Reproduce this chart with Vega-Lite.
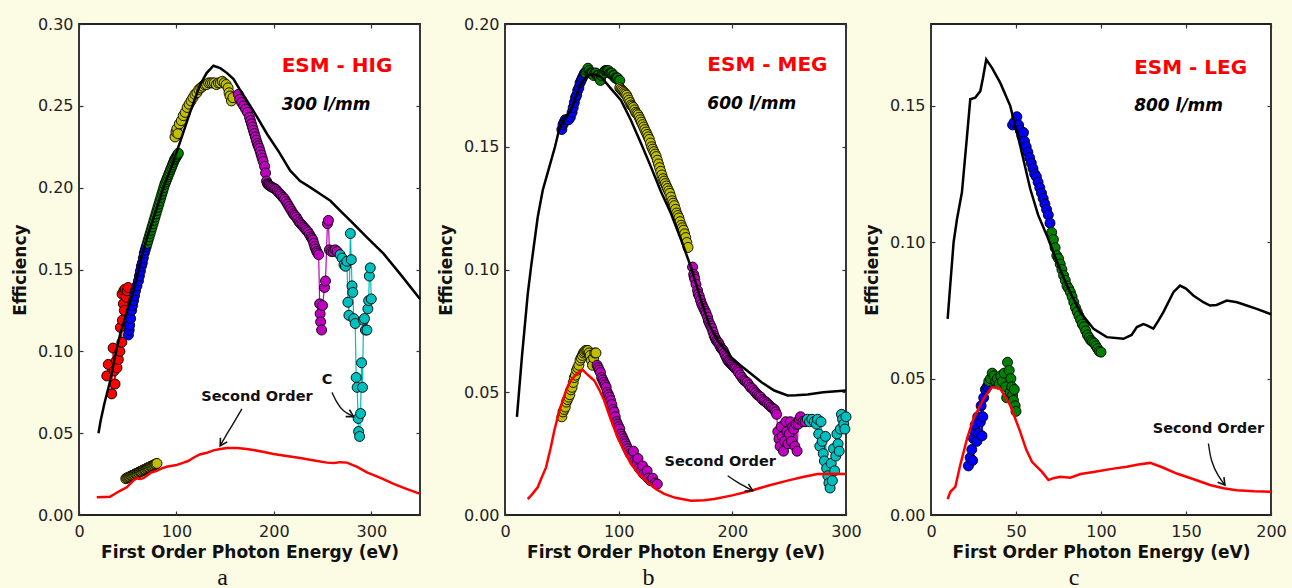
{
"$schema": "https://vega.github.io/schema/vega-lite/v6.json",
"background": "#fcfbe3",
"padding": {"left": 10, "top": 15, "right": 5, "bottom": 0},
"bounds": "flush",
"spacing": 85,
"config": {
  "view": {"stroke": "#222", "strokeWidth": 1.8, "fill": "white"},
  "axis": {"grid": false, "domain": false, "labelFont": "DejaVu Sans", "labelFontSize": 16, "labelColor": "#222", "titleFont": "DejaVu Sans", "titleFontSize": 17, "titleFontWeight": "bold", "titleColor": "#111", "tickColor": "#333", "tickSize": -4, "tickWidth": 1.2, "labelFlush": false, "labelOverlap": false},
  "axisLeft": {"labelPadding": 10, "titleX": -54, "titleY": 245.5, "titleBaseline": "alphabetic", "titleAngle": 270},
  "axisBottom": {"labelPadding": 25, "labelBaseline": "alphabetic", "titleY": 42.5, "titleBaseline": "alphabetic"},
  "title": {"orient": "bottom", "frame": "group", "anchor": "middle", "dx": -27, "font": "Liberation Serif", "fontSize": 24, "fontWeight": "normal", "color": "#111", "offset": 5}
},
"datasets": {
  "aF": [{"x":20,"y":0.050},{"x":22,"y":0.057},{"x":26,"y":0.068},{"x":32,"y":0.082},{"x":37,"y":0.097},{"x":42,"y":0.110},{"x":49,"y":0.124},{"x":56,"y":0.137},{"x":64,"y":0.157},{"x":70,"y":0.170},{"x":78,"y":0.184},{"x":86.6,"y":0.200},{"x":95,"y":0.213},{"x":103.8,"y":0.228},{"x":114,"y":0.246},{"x":124.4,"y":0.263},{"x":131,"y":0.270},{"x":138,"y":0.2745},{"x":145,"y":0.273},{"x":152,"y":0.270},{"x":158.6,"y":0.2664},{"x":165,"y":0.260},{"x":172.4,"y":0.2531},{"x":183,"y":0.243},{"x":193,"y":0.2328},{"x":205,"y":0.222},{"x":216.8,"y":0.2104},{"x":227,"y":0.204},{"x":237.4,"y":0.2002},{"x":248,"y":0.196},{"x":258,"y":0.192},{"x":268,"y":0.186},{"x":278.5,"y":0.1798},{"x":295,"y":0.170},{"x":312.8,"y":0.1595},{"x":330,"y":0.147},{"x":350,"y":0.132}],
  "aS": [{"x":18.2,"y":0.0108},{"x":25,"y":0.011},{"x":31.9,"y":0.0112},{"x":37,"y":0.013},{"x":42.1,"y":0.0148},{"x":49,"y":0.0169},{"x":55.8,"y":0.021},{"x":59,"y":0.0225},{"x":62.7,"y":0.022},{"x":66,"y":0.0225},{"x":69.5,"y":0.024},{"x":74,"y":0.026},{"x":79.8,"y":0.027},{"x":85,"y":0.0285},{"x":90,"y":0.0295},{"x":100,"y":0.0305},{"x":107.2,"y":0.032},{"x":112,"y":0.033},{"x":117.5,"y":0.035},{"x":124,"y":0.037},{"x":131.2,"y":0.038},{"x":138,"y":0.0395},{"x":144.9,"y":0.0403},{"x":152,"y":0.041},{"x":162,"y":0.041},{"x":170,"y":0.0405},{"x":179,"y":0.0397},{"x":190,"y":0.0385},{"x":199.6,"y":0.0373},{"x":213,"y":0.036},{"x":227,"y":0.0348},{"x":240,"y":0.0335},{"x":254.4,"y":0.032},{"x":262,"y":0.0318},{"x":268,"y":0.0323},{"x":275,"y":0.032},{"x":285,"y":0.0295},{"x":295.6,"y":0.026},{"x":310,"y":0.0225},{"x":323,"y":0.019},{"x":336,"y":0.016},{"x":348.8,"y":0.0132},{"x":350,"y":0.013}],
  "aP": [
    {"g":"r1","c":"r","x":28.5,"y":0.085},{"g":"r1","c":"r","x":30,"y":0.092},{"g":"r1","c":"r","x":33.6,"y":0.074},{"g":"r1","c":"r","x":35,"y":0.102},{"g":"r1","c":"r","x":36,"y":0.088},{"g":"r1","c":"r","x":37,"y":0.080},{"g":"r1","c":"r","x":38,"y":0.094},{"g":"r1","c":"r","x":39,"y":0.090},{"g":"r1","c":"r","x":40.4,"y":0.095},{"g":"r1","c":"r","x":42,"y":0.100},{"g":"r1","c":"r","x":42.5,"y":0.1146},{"g":"r1","c":"r","x":44,"y":0.1055},{"g":"r1","c":"r","x":44.2,"y":0.135},{"g":"r1","c":"r","x":44.5,"y":0.119},{"g":"r1","c":"r","x":45.5,"y":0.129},{"g":"r1","c":"r","x":46,"y":0.137},{"g":"r1","c":"r","x":46.5,"y":0.125},{"g":"r1","c":"r","x":47.3,"y":0.138},{"g":"r1","c":"r","x":48.5,"y":0.133},{"g":"r1","c":"r","x":49.5,"y":0.137},{"g":"r1","c":"r","x":50.5,"y":0.139},
    {"g":"b1","c":"b","x":50.7,"y":0.110},{"g":"b1","c":"b","x":51.5,"y":0.113},{"g":"b1","c":"b","x":52,"y":0.116},{"g":"b1","c":"b","x":53,"y":0.120},{"g":"b1","c":"b","x":54,"y":0.125},{"g":"b1","c":"b","x":55,"y":0.128},{"g":"b1","c":"b","x":56,"y":0.131},{"g":"b1","c":"b","x":57,"y":0.134},{"g":"b1","c":"b","x":58,"y":0.137},{"g":"b1","c":"b","x":59.5,"y":0.140},{"g":"b1","c":"b","x":61,"y":0.143},{"g":"b1","c":"b","x":62,"y":0.146},{"g":"b1","c":"b","x":63,"y":0.149},{"g":"b1","c":"b","x":64,"y":0.152},{"g":"b1","c":"b","x":65,"y":0.154},{"g":"b1","c":"b","x":66,"y":0.157},{"g":"b1","c":"b","x":67,"y":0.160},{"g":"b1","c":"b","x":68,"y":0.162},{"g":"b1","c":"b","x":69,"y":0.164},
    {"g":"g1","c":"g","x":70,"y":0.166},{"g":"g1","c":"g","x":71,"y":0.168},{"g":"g1","c":"g","x":72,"y":0.170},{"g":"g1","c":"g","x":73,"y":0.172},{"g":"g1","c":"g","x":74,"y":0.174},{"g":"g1","c":"g","x":75,"y":0.176},{"g":"g1","c":"g","x":76,"y":0.178},{"g":"g1","c":"g","x":77,"y":0.180},{"g":"g1","c":"g","x":78,"y":0.182},{"g":"g1","c":"g","x":79,"y":0.184},{"g":"g1","c":"g","x":80,"y":0.186},{"g":"g1","c":"g","x":81,"y":0.188},{"g":"g1","c":"g","x":82,"y":0.190},{"g":"g1","c":"g","x":83,"y":0.192},{"g":"g1","c":"g","x":84,"y":0.194},{"g":"g1","c":"g","x":85,"y":0.196},{"g":"g1","c":"g","x":86,"y":0.198},{"g":"g1","c":"g","x":87,"y":0.200},{"g":"g1","c":"g","x":88,"y":0.202},{"g":"g1","c":"g","x":89,"y":0.2035},{"g":"g1","c":"g","x":90,"y":0.205},{"g":"g1","c":"g","x":91,"y":0.2065},{"g":"g1","c":"g","x":92,"y":0.208},{"g":"g1","c":"g","x":93,"y":0.2095},{"g":"g1","c":"g","x":94,"y":0.211},{"g":"g1","c":"g","x":95,"y":0.2125},{"g":"g1","c":"g","x":96,"y":0.214},{"g":"g1","c":"g","x":97,"y":0.2155},{"g":"g1","c":"g","x":98,"y":0.217},{"g":"g1","c":"g","x":99,"y":0.218},{"g":"g1","c":"g","x":100,"y":0.219},{"g":"g1","c":"g","x":101,"y":0.220},{"g":"g1","c":"g","x":102,"y":0.221},
    {"g":"y1","c":"y","x":98.5,"y":0.231},{"g":"y1","c":"y","x":99.5,"y":0.234},{"g":"y1","c":"y","x":100.5,"y":0.236},{"g":"y1","c":"y","x":101.5,"y":0.233},{"g":"y1","c":"y","x":103,"y":0.239},{"g":"y1","c":"y","x":105,"y":0.241},{"g":"y1","c":"y","x":107,"y":0.244},{"g":"y1","c":"y","x":109,"y":0.246},{"g":"y1","c":"y","x":111,"y":0.249},{"g":"y1","c":"y","x":113,"y":0.251},{"g":"y1","c":"y","x":115,"y":0.253},{"g":"y1","c":"y","x":117,"y":0.255},{"g":"y1","c":"y","x":119,"y":0.257},{"g":"y1","c":"y","x":121,"y":0.258},{"g":"y1","c":"y","x":123,"y":0.260},{"g":"y1","c":"y","x":125,"y":0.261},{"g":"y1","c":"y","x":127,"y":0.262},{"g":"y1","c":"y","x":129,"y":0.263},{"g":"y1","c":"y","x":131,"y":0.263},{"g":"y1","c":"y","x":133,"y":0.264},{"g":"y1","c":"y","x":135,"y":0.264},{"g":"y1","c":"y","x":137,"y":0.264},{"g":"y1","c":"y","x":139,"y":0.264},{"g":"y1","c":"y","x":141,"y":0.263},{"g":"y1","c":"y","x":143,"y":0.264},{"g":"y1","c":"y","x":145,"y":0.264},{"g":"y1","c":"y","x":147,"y":0.265},{"g":"y1","c":"y","x":149,"y":0.264},{"g":"y1","c":"y","x":151,"y":0.263},{"g":"y1","c":"y","x":153,"y":0.261},{"g":"y1","c":"y","x":154,"y":0.258},{"g":"y1","c":"y","x":155,"y":0.256},{"g":"y1","c":"y","x":156.5,"y":0.253},{"g":"y1","c":"y","x":158,"y":0.255},
    {"g":"m1","c":"m","x":163.5,"y":0.257},{"g":"m1","c":"m","x":165,"y":0.254},{"g":"m1","c":"m","x":167,"y":0.252},{"g":"m1","c":"m","x":169,"y":0.250},{"g":"m1","c":"m","x":171,"y":0.248},{"g":"m1","c":"m","x":173,"y":0.246},{"g":"m1","c":"m","x":175,"y":0.243},{"g":"m1","c":"m","x":176,"y":0.241},{"g":"m1","c":"m","x":177,"y":0.239},{"g":"m1","c":"m","x":178,"y":0.237},{"g":"m1","c":"m","x":179,"y":0.235},{"g":"m1","c":"m","x":180,"y":0.233},{"g":"m1","c":"m","x":181,"y":0.231},{"g":"m1","c":"m","x":182,"y":0.229},{"g":"m1","c":"m","x":183,"y":0.227},{"g":"m1","c":"m","x":184,"y":0.2255},{"g":"m1","c":"m","x":185,"y":0.224},{"g":"m1","c":"m","x":186,"y":0.222},{"g":"m1","c":"m","x":187,"y":0.220},{"g":"m1","c":"m","x":188,"y":0.218},{"g":"m1","c":"m","x":189,"y":0.216},{"g":"m1","c":"m","x":190.5,"y":0.213},{"g":"m1","c":"m","x":191.5,"y":0.209},{"g":"m1","c":"m","x":192.5,"y":0.204},{"g":"m1","c":"m","x":193.5,"y":0.2025},{"g":"m1","c":"m","x":194,"y":0.202},{"g":"m1","c":"m","x":195,"y":0.2015},{"g":"m1","c":"m","x":196,"y":0.201},{"g":"m1","c":"m","x":197.5,"y":0.2005},{"g":"m1","c":"m","x":199,"y":0.200},{"g":"m1","c":"m","x":200.5,"y":0.1995},{"g":"m1","c":"m","x":202,"y":0.199},{"g":"m1","c":"m","x":203.5,"y":0.198},{"g":"m1","c":"m","x":205,"y":0.197},{"g":"m1","c":"m","x":206.5,"y":0.196},{"g":"m1","c":"m","x":208,"y":0.195},{"g":"m1","c":"m","x":209.5,"y":0.194},{"g":"m1","c":"m","x":211,"y":0.193},{"g":"m1","c":"m","x":212.5,"y":0.1915},{"g":"m1","c":"m","x":214,"y":0.190},{"g":"m1","c":"m","x":215.5,"y":0.1885},{"g":"m1","c":"m","x":217,"y":0.187},{"g":"m1","c":"m","x":218.5,"y":0.1855},{"g":"m1","c":"m","x":220,"y":0.184},{"g":"m1","c":"m","x":221.5,"y":0.183},{"g":"m1","c":"m","x":223,"y":0.182},{"g":"m1","c":"m","x":224.5,"y":0.1805},{"g":"m1","c":"m","x":226,"y":0.179},{"g":"m1","c":"m","x":227.5,"y":0.178},{"g":"m1","c":"m","x":229,"y":0.177},{"g":"m1","c":"m","x":230.5,"y":0.176},{"g":"m1","c":"m","x":232,"y":0.175},{"g":"m1","c":"m","x":233.5,"y":0.174},{"g":"m1","c":"m","x":235,"y":0.173},{"g":"m1","c":"m","x":236.5,"y":0.1715},{"g":"m1","c":"m","x":238,"y":0.170},{"g":"m1","c":"m","x":239,"y":0.169},{"g":"m1","c":"m","x":240,"y":0.168},{"g":"m1","c":"m","x":241,"y":0.166},{"g":"m1","c":"m","x":242,"y":0.164},{"g":"m1","c":"m","x":243,"y":0.1625},{"g":"m1","c":"m","x":244,"y":0.161},{"g":"m1","c":"m","x":245,"y":0.160},{"g":"m1","c":"m","x":246,"y":0.159},{"g":"m1","c":"m","x":247,"y":0.129},{"g":"m1","c":"m","x":247.5,"y":0.123},{"g":"m1","c":"m","x":248,"y":0.118},{"g":"m1","c":"m","x":249,"y":0.113},{"g":"m1","c":"m","x":250,"y":0.128},{"g":"m1","c":"m","x":252,"y":0.139},{"g":"m1","c":"m","x":253,"y":0.143},{"g":"m1","c":"m","x":255,"y":0.178},{"g":"m1","c":"m","x":256,"y":0.180},{"g":"m1","c":"m","x":257,"y":0.162},{"g":"m1","c":"m","x":259,"y":0.161},{"g":"m1","c":"m","x":261,"y":0.161},{"g":"m1","c":"m","x":263,"y":0.162},{"g":"m1","c":"m","x":265,"y":0.161},
    {"g":"c1","c":"c","x":268,"y":0.159},{"g":"c1","c":"c","x":270,"y":0.157},{"g":"c1","c":"c","x":272,"y":0.153},{"g":"c1","c":"c","x":273.5,"y":0.152},{"g":"c1","c":"c","x":275,"y":0.155},{"g":"c1","c":"c","x":276,"y":0.130},{"g":"c1","c":"c","x":277,"y":0.122},{"g":"c1","c":"c","x":278.5,"y":0.172},{"g":"c1","c":"c","x":279.5,"y":0.156},{"g":"c1","c":"c","x":280.2,"y":0.140},{"g":"c1","c":"c","x":281,"y":0.136},{"g":"c1","c":"c","x":282,"y":0.120},{"g":"c1","c":"c","x":283.5,"y":0.117},{"g":"c1","c":"c","x":284.5,"y":0.084},{"g":"c1","c":"c","x":285.5,"y":0.078},{"g":"c1","c":"c","x":286.5,"y":0.059},{"g":"c1","c":"c","x":287,"y":0.051},{"g":"c1","c":"c","x":288,"y":0.048},{"g":"c1","c":"c","x":289,"y":0.062},{"g":"c1","c":"c","x":290,"y":0.093},{"g":"c1","c":"c","x":291,"y":0.078},{"g":"c1","c":"c","x":292,"y":0.119},{"g":"c1","c":"c","x":293,"y":0.120},{"g":"c1","c":"c","x":294,"y":0.113},{"g":"c1","c":"c","x":295.5,"y":0.113},{"g":"c1","c":"c","x":296.5,"y":0.126},{"g":"c1","c":"c","x":297.3,"y":0.131},{"g":"c1","c":"c","x":298,"y":0.146},{"g":"c1","c":"c","x":299,"y":0.151},{"g":"c1","c":"c","x":300,"y":0.132},
    {"g":"y2","c":"y","x":48,"y":0.0222},{"g":"y2","c":"y","x":49,"y":0.0225},{"g":"y2","c":"y","x":50,"y":0.0229},{"g":"y2","c":"y","x":51,"y":0.0231},{"g":"y2","c":"y","x":52,"y":0.0233},{"g":"y2","c":"y","x":53,"y":0.0237},{"g":"y2","c":"y","x":54,"y":0.0240},{"g":"y2","c":"y","x":55,"y":0.0242},{"g":"y2","c":"y","x":56,"y":0.0244},{"g":"y2","c":"y","x":57,"y":0.0248},{"g":"y2","c":"y","x":58,"y":0.0252},{"g":"y2","c":"y","x":59,"y":0.0254},{"g":"y2","c":"y","x":60,"y":0.0256},{"g":"y2","c":"y","x":61,"y":0.0260},{"g":"y2","c":"y","x":62,"y":0.0263},{"g":"y2","c":"y","x":63,"y":0.0266},{"g":"y2","c":"y","x":64,"y":0.0267},{"g":"y2","c":"y","x":65,"y":0.0271},{"g":"y2","c":"y","x":66,"y":0.0275},{"g":"y2","c":"y","x":67,"y":0.0277},{"g":"y2","c":"y","x":68,"y":0.0279},{"g":"y2","c":"y","x":69,"y":0.0283},{"g":"y2","c":"y","x":70,"y":0.0287},{"g":"y2","c":"y","x":71,"y":0.0289},{"g":"y2","c":"y","x":72,"y":0.0291},{"g":"y2","c":"y","x":73,"y":0.0295},{"g":"y2","c":"y","x":74,"y":0.0298},{"g":"y2","c":"y","x":75,"y":0.0300},{"g":"y2","c":"y","x":76,"y":0.0302},{"g":"y2","c":"y","x":77,"y":0.0306},{"g":"y2","c":"y","x":78,"y":0.0309},{"g":"y2","c":"y","x":79,"y":0.0312},{"g":"y2","c":"y","x":80,"y":0.0315}
  ],
  "aA": [{"g":"s1","i":0,"x":167.2,"y":0.0648},{"g":"s1","i":1,"x":158.3,"y":0.0558},{"g":"s1","i":2,"x":150.1,"y":0.0478},{"g":"s1","i":3,"x":144.9,"y":0.0423},
         {"g":"s2","i":0,"x":259.7,"y":0.0749},{"g":"s2","i":1,"x":264.8,"y":0.0688},{"g":"s2","i":2,"x":271.6,"y":0.0637},{"g":"s2","i":3,"x":281.9,"y":0.0601}],
  "aH": [{"g":"h1","i":0,"x":152.2,"y":0.0447},{"g":"h1","i":1,"x":144.9,"y":0.0423},{"g":"h1","i":2,"x":145.2,"y":0.0472},
         {"g":"h2","i":0,"x":277.6,"y":0.0643},{"g":"h2","i":1,"x":281.9,"y":0.0601},{"g":"h2","i":2,"x":273.7,"y":0.0601}],
  "aN": [{"k":"h","x":208,"y":0.2745,"t":"ESM - HIG"},{"k":"s","x":208,"y":0.2507,"t":"300 l/mm"},{"k":"o","x":182.6,"y":0.0723,"t":"Second Order"},{"k":"o","x":254.6,"y":0.0826,"t":"C"}],

  "bF": [{"x":10.5,"y":0.040},{"x":15,"y":0.065},{"x":20,"y":0.090},{"x":22.9,"y":0.101},{"x":28.8,"y":0.1214},{"x":33.2,"y":0.1323},{"x":39,"y":0.1418},{"x":44,"y":0.150},{"x":47.8,"y":0.1574},{"x":52,"y":0.161},{"x":58,"y":0.1649},{"x":62,"y":0.170},{"x":66.8,"y":0.1758},{"x":72.7,"y":0.1792},{"x":78,"y":0.1795},{"x":84.4,"y":0.1785},{"x":93.2,"y":0.1737},{"x":102,"y":0.169},{"x":110.8,"y":0.1608},{"x":120,"y":0.151},{"x":128.4,"y":0.1418},{"x":137,"y":0.132},{"x":146,"y":0.1228},{"x":155,"y":0.112},{"x":163.6,"y":0.101},{"x":172.4,"y":0.0874},{"x":180,"y":0.077},{"x":187,"y":0.0711},{"x":198.9,"y":0.0643},{"x":207,"y":0.061},{"x":216.4,"y":0.0575},{"x":226,"y":0.054},{"x":236.9,"y":0.0507},{"x":248.6,"y":0.0487},{"x":256,"y":0.0488},{"x":266.2,"y":0.0491},{"x":280,"y":0.050},{"x":300,"y":0.0507}],
  "bS": [{"x":20,"y":0.0065},{"x":24,"y":0.0085},{"x":28.8,"y":0.0113},{"x":32,"y":0.015},{"x":36.1,"y":0.0194},{"x":40,"y":0.027},{"x":43.4,"y":0.0344},{"x":47,"y":0.041},{"x":50.7,"y":0.0466},{"x":54,"y":0.051},{"x":58,"y":0.0548},{"x":63,"y":0.0575},{"x":68.3,"y":0.0591},{"x":73,"y":0.057},{"x":78.5,"y":0.0548},{"x":83,"y":0.051},{"x":87.3,"y":0.0466},{"x":93,"y":0.039},{"x":99.1,"y":0.0316},{"x":105,"y":0.026},{"x":110.8,"y":0.0208},{"x":118,"y":0.0165},{"x":125.5,"y":0.0133},{"x":133,"y":0.0105},{"x":140.1,"y":0.0086},{"x":150,"y":0.007},{"x":163.6,"y":0.0058},{"x":175,"y":0.006},{"x":184.1,"y":0.0065},{"x":200,"y":0.008},{"x":216.4,"y":0.0099},{"x":232,"y":0.012},{"x":248.6,"y":0.014},{"x":262,"y":0.0155},{"x":275,"y":0.0167},{"x":290,"y":0.0168},{"x":300,"y":0.0167}],
  "bP": [
    {"g":"b1","c":"b","x":50,"y":0.157},{"g":"b1","c":"b","x":51,"y":0.159},{"g":"b1","c":"b","x":52,"y":0.160},{"g":"b1","c":"b","x":53,"y":0.161},{"g":"b1","c":"b","x":54.5,"y":0.161},{"g":"b1","c":"b","x":56,"y":0.161},{"g":"b1","c":"b","x":57.5,"y":0.162},{"g":"b1","c":"b","x":59,"y":0.164},{"g":"b1","c":"b","x":60,"y":0.166},{"g":"b1","c":"b","x":61,"y":0.168},{"g":"b1","c":"b","x":62,"y":0.170},{"g":"b1","c":"b","x":63,"y":0.171},{"g":"b1","c":"b","x":64,"y":0.173},{"g":"b1","c":"b","x":65,"y":0.174},{"g":"b1","c":"b","x":66,"y":0.176},{"g":"b1","c":"b","x":67,"y":0.177},{"g":"b1","c":"b","x":68,"y":0.178},{"g":"b1","c":"b","x":69,"y":0.179},{"g":"b1","c":"b","x":70,"y":0.180},
    {"g":"g1","c":"g","x":71,"y":0.180},{"g":"g1","c":"g","x":72,"y":0.181},{"g":"g1","c":"g","x":73,"y":0.182},{"g":"g1","c":"g","x":74,"y":0.181},{"g":"g1","c":"g","x":75,"y":0.180},{"g":"g1","c":"g","x":76,"y":0.180},{"g":"g1","c":"g","x":77,"y":0.180},{"g":"g1","c":"g","x":78,"y":0.179},{"g":"g1","c":"g","x":79,"y":0.180},{"g":"g1","c":"g","x":80,"y":0.180},{"g":"g1","c":"g","x":81,"y":0.179},{"g":"g1","c":"g","x":82,"y":0.179},{"g":"g1","c":"g","x":83,"y":0.178},{"g":"g1","c":"g","x":84,"y":0.177},{"g":"g1","c":"g","x":85,"y":0.179},{"g":"g1","c":"g","x":86,"y":0.180},{"g":"g1","c":"g","x":87,"y":0.180},{"g":"g1","c":"g","x":88,"y":0.181},{"g":"g1","c":"g","x":89,"y":0.181},{"g":"g1","c":"g","x":90,"y":0.181},{"g":"g1","c":"g","x":91,"y":0.181},{"g":"g1","c":"g","x":92,"y":0.180},{"g":"g1","c":"g","x":93,"y":0.180},{"g":"g1","c":"g","x":94,"y":0.180},{"g":"g1","c":"g","x":95,"y":0.179},{"g":"g1","c":"g","x":96,"y":0.179},{"g":"g1","c":"g","x":97,"y":0.178},{"g":"g1","c":"g","x":98,"y":0.178},{"g":"g1","c":"g","x":99,"y":0.178},{"g":"g1","c":"g","x":100,"y":0.177},{"g":"g1","c":"g","x":101,"y":0.177},
    {"g":"y1","c":"y","x":101,"y":0.174},{"g":"y1","c":"y","x":102,"y":0.1735},{"g":"y1","c":"y","x":103,"y":0.173},{"g":"y1","c":"y","x":104,"y":0.1725},{"g":"y1","c":"y","x":105,"y":0.172},{"g":"y1","c":"y","x":106,"y":0.1715},{"g":"y1","c":"y","x":107,"y":0.171},{"g":"y1","c":"y","x":108,"y":0.170},{"g":"y1","c":"y","x":109,"y":0.169},{"g":"y1","c":"y","x":110,"y":0.168},{"g":"y1","c":"y","x":111,"y":0.167},{"g":"y1","c":"y","x":112,"y":0.1665},{"g":"y1","c":"y","x":113,"y":0.166},{"g":"y1","c":"y","x":114,"y":0.165},{"g":"y1","c":"y","x":115,"y":0.164},{"g":"y1","c":"y","x":116,"y":0.1635},{"g":"y1","c":"y","x":117,"y":0.163},{"g":"y1","c":"y","x":118,"y":0.162},{"g":"y1","c":"y","x":119,"y":0.161},{"g":"y1","c":"y","x":120,"y":0.160},{"g":"y1","c":"y","x":121,"y":0.159},{"g":"y1","c":"y","x":122,"y":0.158},{"g":"y1","c":"y","x":123,"y":0.157},{"g":"y1","c":"y","x":124,"y":0.156},{"g":"y1","c":"y","x":125,"y":0.155},{"g":"y1","c":"y","x":126,"y":0.154},{"g":"y1","c":"y","x":127,"y":0.153},{"g":"y1","c":"y","x":128,"y":0.1515},{"g":"y1","c":"y","x":129,"y":0.150},{"g":"y1","c":"y","x":130,"y":0.149},{"g":"y1","c":"y","x":131,"y":0.148},{"g":"y1","c":"y","x":132,"y":0.147},{"g":"y1","c":"y","x":133,"y":0.146},{"g":"y1","c":"y","x":134,"y":0.1445},{"g":"y1","c":"y","x":135,"y":0.143},{"g":"y1","c":"y","x":136,"y":0.1415},{"g":"y1","c":"y","x":137,"y":0.140},{"g":"y1","c":"y","x":138,"y":0.1385},{"g":"y1","c":"y","x":139,"y":0.137},{"g":"y1","c":"y","x":140,"y":0.136},{"g":"y1","c":"y","x":141,"y":0.135},{"g":"y1","c":"y","x":142,"y":0.134},{"g":"y1","c":"y","x":143,"y":0.133},{"g":"y1","c":"y","x":144,"y":0.132},{"g":"y1","c":"y","x":145,"y":0.131},{"g":"y1","c":"y","x":146,"y":0.1295},{"g":"y1","c":"y","x":147,"y":0.128},{"g":"y1","c":"y","x":148,"y":0.127},{"g":"y1","c":"y","x":149,"y":0.126},{"g":"y1","c":"y","x":150,"y":0.1245},{"g":"y1","c":"y","x":151,"y":0.123},{"g":"y1","c":"y","x":152,"y":0.122},{"g":"y1","c":"y","x":153,"y":0.121},{"g":"y1","c":"y","x":154,"y":0.1195},{"g":"y1","c":"y","x":155,"y":0.118},{"g":"y1","c":"y","x":156,"y":0.117},{"g":"y1","c":"y","x":157,"y":0.116},{"g":"y1","c":"y","x":158,"y":0.1145},{"g":"y1","c":"y","x":159,"y":0.113},{"g":"y1","c":"y","x":160,"y":0.111},{"g":"y1","c":"y","x":161,"y":0.109},
    {"g":"m1","c":"m","x":165,"y":0.101},{"g":"m1","c":"m","x":166,"y":0.098},{"g":"m1","c":"m","x":166.5,"y":0.097},{"g":"m1","c":"m","x":167,"y":0.096},{"g":"m1","c":"m","x":168,"y":0.094},{"g":"m1","c":"m","x":169.4,"y":0.0915},{"g":"m1","c":"m","x":170,"y":0.090},{"g":"m1","c":"m","x":171,"y":0.089},{"g":"m1","c":"m","x":172,"y":0.0875},{"g":"m1","c":"m","x":173,"y":0.086},{"g":"m1","c":"m","x":174,"y":0.085},{"g":"m1","c":"m","x":175,"y":0.084},{"g":"m1","c":"m","x":176,"y":0.083},{"g":"m1","c":"m","x":177,"y":0.082},{"g":"m1","c":"m","x":178.2,"y":0.0806},{"g":"m1","c":"m","x":179,"y":0.079},{"g":"m1","c":"m","x":180,"y":0.078},{"g":"m1","c":"m","x":181,"y":0.077},{"g":"m1","c":"m","x":182,"y":0.076},{"g":"m1","c":"m","x":183,"y":0.0745},{"g":"m1","c":"m","x":184,"y":0.073},{"g":"m1","c":"m","x":185,"y":0.072},{"g":"m1","c":"m","x":186,"y":0.071},{"g":"m1","c":"m","x":187,"y":0.0705},{"g":"m1","c":"m","x":188,"y":0.070},{"g":"m1","c":"m","x":189,"y":0.069},{"g":"m1","c":"m","x":190,"y":0.068},{"g":"m1","c":"m","x":191,"y":0.0675},{"g":"m1","c":"m","x":192,"y":0.067},{"g":"m1","c":"m","x":193,"y":0.066},{"g":"m1","c":"m","x":194,"y":0.065},{"g":"m1","c":"m","x":195,"y":0.064},{"g":"m1","c":"m","x":196,"y":0.063},{"g":"m1","c":"m","x":197,"y":0.0625},{"g":"m1","c":"m","x":198,"y":0.062},{"g":"m1","c":"m","x":199,"y":0.0615},{"g":"m1","c":"m","x":200,"y":0.061},{"g":"m1","c":"m","x":201,"y":0.0605},{"g":"m1","c":"m","x":202,"y":0.060},{"g":"m1","c":"m","x":203,"y":0.0595},{"g":"m1","c":"m","x":204.6,"y":0.0588},{"g":"m1","c":"m","x":205.5,"y":0.058},{"g":"m1","c":"m","x":207,"y":0.057},{"g":"m1","c":"m","x":208.5,"y":0.056},{"g":"m1","c":"m","x":210,"y":0.055},{"g":"m1","c":"m","x":211.5,"y":0.0545},{"g":"m1","c":"m","x":213,"y":0.054},{"g":"m1","c":"m","x":214.5,"y":0.053},{"g":"m1","c":"m","x":216,"y":0.052},{"g":"m1","c":"m","x":217.5,"y":0.0515},{"g":"m1","c":"m","x":219,"y":0.0507},{"g":"m1","c":"m","x":220.5,"y":0.0498},{"g":"m1","c":"m","x":222,"y":0.049},{"g":"m1","c":"m","x":223.5,"y":0.0485},{"g":"m1","c":"m","x":225,"y":0.048},{"g":"m1","c":"m","x":226.5,"y":0.047},{"g":"m1","c":"m","x":228,"y":0.0465},{"g":"m1","c":"m","x":229.5,"y":0.046},{"g":"m1","c":"m","x":231,"y":0.0453},{"g":"m1","c":"m","x":232.5,"y":0.0447},{"g":"m1","c":"m","x":234,"y":0.044},{"g":"m1","c":"m","x":235.5,"y":0.0435},{"g":"m1","c":"m","x":237,"y":0.043},{"g":"m1","c":"m","x":238,"y":0.042},{"g":"m1","c":"m","x":239,"y":0.041},{"g":"m1","c":"m","x":240,"y":0.034},{"g":"m1","c":"m","x":241,"y":0.031},{"g":"m1","c":"m","x":242,"y":0.028},{"g":"m1","c":"m","x":243,"y":0.036},{"g":"m1","c":"m","x":244,"y":0.032},{"g":"m1","c":"m","x":245,"y":0.026},{"g":"m1","c":"m","x":246,"y":0.030},{"g":"m1","c":"m","x":247,"y":0.038},{"g":"m1","c":"m","x":248,"y":0.034},{"g":"m1","c":"m","x":249,"y":0.029},{"g":"m1","c":"m","x":250,"y":0.033},{"g":"m1","c":"m","x":251,"y":0.038},{"g":"m1","c":"m","x":252,"y":0.030},{"g":"m1","c":"m","x":253,"y":0.036},{"g":"m1","c":"m","x":254,"y":0.035},{"g":"m1","c":"m","x":255,"y":0.028},{"g":"m1","c":"m","x":256,"y":0.037},{"g":"m1","c":"m","x":257,"y":0.026},{"g":"m1","c":"m","x":258,"y":0.037},{"g":"m1","c":"m","x":259,"y":0.039},{"g":"m1","c":"m","x":260,"y":0.040},{"g":"m1","c":"m","x":262,"y":0.038},{"g":"m1","c":"m","x":264,"y":0.038},
    {"g":"c1","c":"c","x":266,"y":0.039},{"g":"c1","c":"c","x":268,"y":0.038},{"g":"c1","c":"c","x":270,"y":0.039},{"g":"c1","c":"c","x":272,"y":0.038},{"g":"c1","c":"c","x":274,"y":0.037},{"g":"c1","c":"c","x":275,"y":0.039},{"g":"c1","c":"c","x":276,"y":0.033},{"g":"c1","c":"c","x":277,"y":0.028},{"g":"c1","c":"c","x":278,"y":0.038},{"g":"c1","c":"c","x":279,"y":0.030},{"g":"c1","c":"c","x":280,"y":0.025},{"g":"c1","c":"c","x":281,"y":0.022},{"g":"c1","c":"c","x":282,"y":0.032},{"g":"c1","c":"c","x":283,"y":0.019},{"g":"c1","c":"c","x":284,"y":0.016},{"g":"c1","c":"c","x":285,"y":0.013},{"g":"c1","c":"c","x":286,"y":0.011},{"g":"c1","c":"c","x":287,"y":0.021},{"g":"c1","c":"c","x":288,"y":0.014},{"g":"c1","c":"c","x":289,"y":0.027},{"g":"c1","c":"c","x":290,"y":0.018},{"g":"c1","c":"c","x":291,"y":0.024},{"g":"c1","c":"c","x":292,"y":0.033},{"g":"c1","c":"c","x":293,"y":0.029},{"g":"c1","c":"c","x":294,"y":0.026},{"g":"c1","c":"c","x":295,"y":0.035},{"g":"c1","c":"c","x":296,"y":0.041},{"g":"c1","c":"c","x":297,"y":0.039},{"g":"c1","c":"c","x":298,"y":0.037},{"g":"c1","c":"c","x":299,"y":0.035},{"g":"c1","c":"c","x":300,"y":0.040},
    {"g":"y2","c":"y","x":50,"y":0.040},{"g":"y2","c":"y","x":51,"y":0.042},{"g":"y2","c":"y","x":52,"y":0.043},{"g":"y2","c":"y","x":53,"y":0.044},{"g":"y2","c":"y","x":54,"y":0.046},{"g":"y2","c":"y","x":55,"y":0.047},{"g":"y2","c":"y","x":56,"y":0.048},{"g":"y2","c":"y","x":57,"y":0.049},{"g":"y2","c":"y","x":58,"y":0.051},{"g":"y2","c":"y","x":59,"y":0.052},{"g":"y2","c":"y","x":60,"y":0.054},{"g":"y2","c":"y","x":61,"y":0.056},{"g":"y2","c":"y","x":62,"y":0.057},{"g":"y2","c":"y","x":63,"y":0.059},{"g":"y2","c":"y","x":64,"y":0.060},{"g":"y2","c":"y","x":65,"y":0.061},{"g":"y2","c":"y","x":66,"y":0.063},{"g":"y2","c":"y","x":67,"y":0.064},{"g":"y2","c":"y","x":68,"y":0.065},{"g":"y2","c":"y","x":69,"y":0.066},{"g":"y2","c":"y","x":70,"y":0.0665},{"g":"y2","c":"y","x":71,"y":0.067},{"g":"y2","c":"y","x":72,"y":0.067},{"g":"y2","c":"y","x":73,"y":0.067},{"g":"y2","c":"y","x":74,"y":0.066},{"g":"y2","c":"y","x":75,"y":0.065},{"g":"y2","c":"y","x":76,"y":0.063},{"g":"y2","c":"y","x":77,"y":0.061},{"g":"y2","c":"y","x":78,"y":0.064},{"g":"y2","c":"y","x":79,"y":0.066},{"g":"y2","c":"y","x":80,"y":0.066},
    {"g":"m2","c":"m","x":81,"y":0.061},{"g":"m2","c":"m","x":82,"y":0.060},{"g":"m2","c":"m","x":83,"y":0.059},{"g":"m2","c":"m","x":84,"y":0.058},{"g":"m2","c":"m","x":85,"y":0.056},{"g":"m2","c":"m","x":86,"y":0.055},{"g":"m2","c":"m","x":87,"y":0.054},{"g":"m2","c":"m","x":88,"y":0.053},{"g":"m2","c":"m","x":89,"y":0.052},{"g":"m2","c":"m","x":90,"y":0.050},{"g":"m2","c":"m","x":91,"y":0.049},{"g":"m2","c":"m","x":92,"y":0.048},{"g":"m2","c":"m","x":93,"y":0.0466},{"g":"m2","c":"m","x":94,"y":0.045},{"g":"m2","c":"m","x":95,"y":0.043},{"g":"m2","c":"m","x":96,"y":0.042},{"g":"m2","c":"m","x":97,"y":0.040},{"g":"m2","c":"m","x":98,"y":0.038},{"g":"m2","c":"m","x":99,"y":0.037},{"g":"m2","c":"m","x":100,"y":0.036},{"g":"m2","c":"m","x":101,"y":0.035},{"g":"m2","c":"m","x":102,"y":0.033},{"g":"m2","c":"m","x":103,"y":0.032},{"g":"m2","c":"m","x":104,"y":0.031},{"g":"m2","c":"m","x":105,"y":0.030},{"g":"m2","c":"m","x":106,"y":0.029},{"g":"m2","c":"m","x":107,"y":0.028},{"g":"m2","c":"m","x":108,"y":0.027},{"g":"m2","c":"m","x":109,"y":0.026},{"g":"m2","c":"m","x":110,"y":0.025},{"g":"m2","c":"m","x":111,"y":0.0245},{"g":"m2","c":"m","x":112,"y":0.024},{"g":"m2","c":"m","x":113,"y":0.026},{"g":"m2","c":"m","x":114,"y":0.022},{"g":"m2","c":"m","x":116,"y":0.021},{"g":"m2","c":"m","x":117,"y":0.023},{"g":"m2","c":"m","x":118,"y":0.019},{"g":"m2","c":"m","x":120,"y":0.018},{"g":"m2","c":"m","x":121,"y":0.020},{"g":"m2","c":"m","x":122,"y":0.0167},{"g":"m2","c":"m","x":124,"y":0.016},{"g":"m2","c":"m","x":125,"y":0.018},{"g":"m2","c":"m","x":126,"y":0.015},{"g":"m2","c":"m","x":128,"y":0.014},{"g":"m2","c":"m","x":130,"y":0.015},{"g":"m2","c":"m","x":132,"y":0.013},{"g":"m2","c":"m","x":134,"y":0.0126}
  ],
  "bA": [{"g":"s1","i":0,"x":195.9,"y":0.0160},{"g":"s1","i":1,"x":204.7,"y":0.0133},{"g":"s1","i":2,"x":217.9,"y":0.0099}],
  "bH": [{"g":"h1","i":0,"x":214.2,"y":0.0127},{"g":"h1","i":1,"x":217.9,"y":0.0099},{"g":"h1","i":2,"x":210.8,"y":0.0098}],
  "bN": [{"k":"h","x":178,"y":0.1832,"t":"ESM - MEG"},{"k":"s","x":178,"y":0.1673,"t":"600 l/mm"},{"k":"o","x":189.3,"y":0.0215,"t":"Second Order"}],

  "cF": [{"x":9.8,"y":0.0719},{"x":11,"y":0.0817},{"x":13.3,"y":0.100},{"x":15.3,"y":0.1085},{"x":18.2,"y":0.1183},{"x":21.2,"y":0.139},{"x":23.1,"y":0.1524},{"x":26,"y":0.153},{"x":29,"y":0.1554},{"x":30.5,"y":0.160},{"x":32.5,"y":0.167},{"x":35.8,"y":0.164},{"x":40.7,"y":0.1585},{"x":46.6,"y":0.150},{"x":52.5,"y":0.1353},{"x":58.4,"y":0.1195},{"x":63,"y":0.110},{"x":68.2,"y":0.1024},{"x":74,"y":0.093},{"x":79.9,"y":0.0841},{"x":87.7,"y":0.0744},{"x":95.6,"y":0.0683},{"x":103.4,"y":0.0652},{"x":113.2,"y":0.0646},{"x":118,"y":0.066},{"x":121.1,"y":0.0689},{"x":124.9,"y":0.070},{"x":127,"y":0.0695},{"x":130.8,"y":0.0683},{"x":133.5,"y":0.071},{"x":136.7,"y":0.0744},{"x":142.6,"y":0.0817},{"x":146.5,"y":0.0841},{"x":150,"y":0.083},{"x":154.3,"y":0.0805},{"x":160.2,"y":0.078},{"x":164.1,"y":0.0768},{"x":168,"y":0.077},{"x":174,"y":0.0786},{"x":180,"y":0.078},{"x":185.7,"y":0.0768},{"x":192,"y":0.0755},{"x":200,"y":0.0736}],
  "cS": [{"x":9.8,"y":0.0058},{"x":11.4,"y":0.0085},{"x":14.3,"y":0.0103},{"x":17.2,"y":0.0183},{"x":21.2,"y":0.028},{"x":25,"y":0.0353},{"x":30.9,"y":0.0426},{"x":35.8,"y":0.0469},{"x":40.7,"y":0.0463},{"x":46.6,"y":0.0402},{"x":52.5,"y":0.0305},{"x":56,"y":0.024},{"x":59.4,"y":0.0195},{"x":65.3,"y":0.0158},{"x":69.1,"y":0.0128},{"x":72,"y":0.0135},{"x":76,"y":0.014},{"x":81.9,"y":0.0137},{"x":88,"y":0.015},{"x":95.6,"y":0.0158},{"x":107.3,"y":0.017},{"x":115.2,"y":0.0177},{"x":122,"y":0.0185},{"x":128.9,"y":0.0191},{"x":136,"y":0.0175},{"x":144.6,"y":0.0152},{"x":155,"y":0.013},{"x":164.1,"y":0.011},{"x":172,"y":0.0098},{"x":179.8,"y":0.0091},{"x":190,"y":0.0087},{"x":200,"y":0.0085}],
  "cP": [
    {"g":"b1","c":"b","x":48,"y":0.143},{"g":"b1","c":"b","x":49,"y":0.144},{"g":"b1","c":"b","x":50.5,"y":0.146},{"g":"b1","c":"b","x":51.5,"y":0.143},{"g":"b1","c":"b","x":52.5,"y":0.141},{"g":"b1","c":"b","x":53.5,"y":0.139},{"g":"b1","c":"b","x":54.4,"y":0.1402},{"g":"b1","c":"b","x":55,"y":0.137},{"g":"b1","c":"b","x":56,"y":0.135},{"g":"b1","c":"b","x":57,"y":0.133},{"g":"b1","c":"b","x":58,"y":0.131},{"g":"b1","c":"b","x":59,"y":0.129},{"g":"b1","c":"b","x":60,"y":0.127},{"g":"b1","c":"b","x":61,"y":0.125},{"g":"b1","c":"b","x":62,"y":0.124},{"g":"b1","c":"b","x":63,"y":0.122},{"g":"b1","c":"b","x":64,"y":0.120},{"g":"b1","c":"b","x":65,"y":0.118},{"g":"b1","c":"b","x":66,"y":0.116},{"g":"b1","c":"b","x":67,"y":0.114},{"g":"b1","c":"b","x":68,"y":0.112},{"g":"b1","c":"b","x":69,"y":0.110},{"g":"b1","c":"b","x":70,"y":0.107},
    {"g":"g1","c":"g","x":71,"y":0.1036},{"g":"g1","c":"g","x":72,"y":0.101},{"g":"g1","c":"g","x":73,"y":0.098},{"g":"g1","c":"g","x":74,"y":0.0951},{"g":"g1","c":"g","x":75,"y":0.094},{"g":"g1","c":"g","x":76,"y":0.092},{"g":"g1","c":"g","x":77,"y":0.090},{"g":"g1","c":"g","x":78,"y":0.0878},{"g":"g1","c":"g","x":79,"y":0.086},{"g":"g1","c":"g","x":80,"y":0.084},{"g":"g1","c":"g","x":81,"y":0.083},{"g":"g1","c":"g","x":82,"y":0.0817},{"g":"g1","c":"g","x":83,"y":0.080},{"g":"g1","c":"g","x":84,"y":0.078},{"g":"g1","c":"g","x":85,"y":0.076},{"g":"g1","c":"g","x":86,"y":0.0745},{"g":"g1","c":"g","x":87,"y":0.073},{"g":"g1","c":"g","x":88,"y":0.0715},{"g":"g1","c":"g","x":89,"y":0.070},{"g":"g1","c":"g","x":90,"y":0.069},{"g":"g1","c":"g","x":91,"y":0.0675},{"g":"g1","c":"g","x":92,"y":0.066},{"g":"g1","c":"g","x":93,"y":0.065},{"g":"g1","c":"g","x":94,"y":0.064},{"g":"g1","c":"g","x":95,"y":0.0635},{"g":"g1","c":"g","x":96,"y":0.063},{"g":"g1","c":"g","x":97,"y":0.062},{"g":"g1","c":"g","x":98,"y":0.061},{"g":"g1","c":"g","x":99,"y":0.060},{"g":"g1","c":"g","x":100,"y":0.0597},
    {"g":"b2","c":"b","x":22,"y":0.018},{"g":"b2","c":"b","x":23,"y":0.021},{"g":"b2","c":"b","x":24,"y":0.024},{"g":"b2","c":"b","x":24.5,"y":0.020},{"g":"b2","c":"b","x":25,"y":0.028},{"g":"b2","c":"b","x":25.5,"y":0.031},{"g":"b2","c":"b","x":26,"y":0.033},{"g":"b2","c":"b","x":27,"y":0.027},{"g":"b2","c":"b","x":27.5,"y":0.036},{"g":"b2","c":"b","x":28,"y":0.030},{"g":"b2","c":"b","x":29,"y":0.034},{"g":"b2","c":"b","x":29.5,"y":0.040},{"g":"b2","c":"b","x":30,"y":0.029},{"g":"b2","c":"b","x":30.5,"y":0.036},{"g":"b2","c":"b","x":31,"y":0.043},{"g":"b2","c":"b","x":32,"y":0.046},{"g":"b2","c":"b","x":33,"y":0.047},{"g":"b2","c":"b","x":34,"y":0.048},
    {"g":"g2","c":"g","x":34,"y":0.049},{"g":"g2","c":"g","x":35,"y":0.050},{"g":"g2","c":"g","x":36,"y":0.052},{"g":"g2","c":"g","x":37,"y":0.051},{"g":"g2","c":"g","x":38,"y":0.049},{"g":"g2","c":"g","x":39,"y":0.050},{"g":"g2","c":"g","x":40,"y":0.048},{"g":"g2","c":"g","x":41,"y":0.051},{"g":"g2","c":"g","x":42,"y":0.049},{"g":"g2","c":"g","x":43,"y":0.052},{"g":"g2","c":"g","x":44,"y":0.047},{"g":"g2","c":"g","x":44.5,"y":0.043},{"g":"g2","c":"g","x":45,"y":0.056},{"g":"g2","c":"g","x":46,"y":0.053},{"g":"g2","c":"g","x":46.5,"y":0.045},{"g":"g2","c":"g","x":47,"y":0.050},{"g":"g2","c":"g","x":47.5,"y":0.047},{"g":"g2","c":"g","x":48,"y":0.044},{"g":"g2","c":"g","x":48.5,"y":0.042},{"g":"g2","c":"g","x":49,"y":0.046},{"g":"g2","c":"g","x":49.5,"y":0.040},{"g":"g2","c":"g","x":50,"y":0.038}
  ],
  "cA": [{"g":"s1","i":0,"x":163.2,"y":0.0262},{"g":"s1","i":1,"x":165.1,"y":0.0199},{"g":"s1","i":2,"x":169.0,"y":0.0144},{"g":"s1","i":3,"x":172.9,"y":0.0110}],
  "cH": [{"g":"h1","i":0,"x":172.3,"y":0.0139},{"g":"h1","i":1,"x":172.9,"y":0.0110},{"g":"h1","i":2,"x":168.6,"y":0.0120}],
  "cN": [{"k":"h","x":119.5,"y":0.164,"t":"ESM - LEG"},{"k":"s","x":119.5,"y":0.150,"t":"800 l/mm"},{"k":"o","x":163.2,"y":0.0315,"t":"Second Order"}]
},
"hconcat": [
  {
    "width": 341, "height": 491,
    "title": {"text": "a"},
    "resolve": {"axis": {"x": "independent", "y": "independent"}},
    "layer": [
      {"data": {"name": "aP"}, "mark": {"type": "line", "strokeWidth": 1.2},
       "encoding": {
         "x": {"field": "x", "type": "quantitative", "scale": {"domain": [0, 350], "nice": false, "zero": false}, "axis": {"values": [0, 100, 200, 300], "format": "d", "title": "First Order Photon Energy (eV)"}},
         "y": {"field": "y", "type": "quantitative", "scale": {"domain": [0, 0.3], "nice": false}, "axis": {"values": [0, 0.05, 0.1, 0.15, 0.2, 0.25, 0.3], "format": ".2f", "title": "Efficiency"}},
         "color": {"field": "c", "type": "nominal", "scale": {"domain": ["r","b","g","y","m","c"], "range": ["#ff0000","#0000ff","#008000","#bfbf00","#bf00bf","#00bfbf"]}, "legend": null},
         "detail": {"field": "g"}}},
      {"data": {"name": "aP"}, "mark": {"type": "point", "filled": true, "size": 100, "stroke": "#000", "strokeWidth": 0.9, "opacity": 1},
       "encoding": {
         "x": {"field": "x", "type": "quantitative", "axis": null},
         "y": {"field": "y", "type": "quantitative", "axis": null},
         "fill": {"field": "c", "type": "nominal", "scale": {"domain": ["r","b","g","y","m","c"], "range": ["#ff0000","#0000ff","#008000","#bfbf00","#bf00bf","#00bfbf"]}, "legend": null}}},
      {"data": {"name": "aF"}, "mark": {"type": "line", "color": "#000", "strokeWidth": 2.5},
       "encoding": {"x": {"field": "x", "type": "quantitative", "axis": null}, "y": {"field": "y", "type": "quantitative", "axis": null}}},
      {"data": {"name": "aS"}, "mark": {"type": "line", "color": "#ff0000", "strokeWidth": 2.5},
       "encoding": {"x": {"field": "x", "type": "quantitative", "axis": {"orient": "top", "values": [0, 100, 200, 300], "labels": false, "title": null}},
                    "y": {"field": "y", "type": "quantitative", "axis": {"orient": "right", "values": [0, 0.05, 0.1, 0.15, 0.2, 0.25, 0.3], "labels": false, "title": null}}}},
      {"data": {"name": "aA"}, "mark": {"type": "line", "color": "#111", "strokeWidth": 1.4, "interpolate": "natural"},
       "encoding": {"x": {"field": "x", "type": "quantitative", "axis": null}, "y": {"field": "y", "type": "quantitative", "axis": null}, "detail": {"field": "g"}, "order": {"field": "i"}}},
      {"data": {"name": "aH"}, "mark": {"type": "line", "color": "#111", "strokeWidth": 1.6},
       "encoding": {"x": {"field": "x", "type": "quantitative", "axis": null}, "y": {"field": "y", "type": "quantitative", "axis": null}, "detail": {"field": "g"}, "order": {"field": "i"}}},
      {"data": {"name": "aN"}, "transform": [{"filter": "datum.k == 'h'"}], "mark": {"type": "text", "font": "DejaVu Sans", "fontWeight": "bold", "fontSize": 20, "color": "#ff0000", "align": "left", "baseline": "middle"},
       "encoding": {"x": {"field": "x", "type": "quantitative", "axis": null}, "y": {"field": "y", "type": "quantitative", "axis": null}, "text": {"field": "t"}}},
      {"data": {"name": "aN"}, "transform": [{"filter": "datum.k == 's'"}], "mark": {"type": "text", "font": "DejaVu Sans", "fontWeight": "bold", "fontStyle": "italic", "fontSize": 17, "color": "#000", "align": "left", "baseline": "middle"},
       "encoding": {"x": {"field": "x", "type": "quantitative", "axis": null}, "y": {"field": "y", "type": "quantitative", "axis": null}, "text": {"field": "t"}}},
      {"data": {"name": "aN"}, "transform": [{"filter": "datum.k == 'o'"}], "mark": {"type": "text", "font": "DejaVu Sans", "fontWeight": "bold", "fontSize": 14.5, "color": "#111", "align": "center", "baseline": "middle"},
       "encoding": {"x": {"field": "x", "type": "quantitative", "axis": null}, "y": {"field": "y", "type": "quantitative", "axis": null}, "text": {"field": "t"}}}
    ]
  },
  {
    "width": 341, "height": 491,
    "title": {"text": "b"},
    "resolve": {"axis": {"x": "independent", "y": "independent"}},
    "layer": [
      {"data": {"name": "bP"}, "mark": {"type": "line", "strokeWidth": 1.2},
       "encoding": {
         "x": {"field": "x", "type": "quantitative", "scale": {"domain": [0, 300], "nice": false, "zero": false}, "axis": {"values": [0, 100, 200, 300], "format": "d", "title": "First Order Photon Energy (eV)"}},
         "y": {"field": "y", "type": "quantitative", "scale": {"domain": [0, 0.2], "nice": false}, "axis": {"values": [0, 0.05, 0.1, 0.15, 0.2], "format": ".2f", "title": "Efficiency"}},
         "color": {"field": "c", "type": "nominal", "scale": {"domain": ["r","b","g","y","m","c"], "range": ["#ff0000","#0000ff","#008000","#bfbf00","#bf00bf","#00bfbf"]}, "legend": null},
         "detail": {"field": "g"}}},
      {"data": {"name": "bP"}, "mark": {"type": "point", "filled": true, "size": 100, "stroke": "#000", "strokeWidth": 0.9, "opacity": 1},
       "encoding": {
         "x": {"field": "x", "type": "quantitative", "axis": null},
         "y": {"field": "y", "type": "quantitative", "axis": null},
         "fill": {"field": "c", "type": "nominal", "scale": {"domain": ["r","b","g","y","m","c"], "range": ["#ff0000","#0000ff","#008000","#bfbf00","#bf00bf","#00bfbf"]}, "legend": null}}},
      {"data": {"name": "bF"}, "mark": {"type": "line", "color": "#000", "strokeWidth": 2.5},
       "encoding": {"x": {"field": "x", "type": "quantitative", "axis": null}, "y": {"field": "y", "type": "quantitative", "axis": null}}},
      {"data": {"name": "bS"}, "mark": {"type": "line", "color": "#ff0000", "strokeWidth": 2.5},
       "encoding": {"x": {"field": "x", "type": "quantitative", "axis": {"orient": "top", "values": [0, 100, 200, 300], "labels": false, "title": null}},
                    "y": {"field": "y", "type": "quantitative", "axis": {"orient": "right", "values": [0, 0.05, 0.1, 0.15, 0.2], "labels": false, "title": null}}}},
      {"data": {"name": "bA"}, "mark": {"type": "line", "color": "#111", "strokeWidth": 1.4, "interpolate": "natural"},
       "encoding": {"x": {"field": "x", "type": "quantitative", "axis": null}, "y": {"field": "y", "type": "quantitative", "axis": null}, "detail": {"field": "g"}, "order": {"field": "i"}}},
      {"data": {"name": "bH"}, "mark": {"type": "line", "color": "#111", "strokeWidth": 1.6},
       "encoding": {"x": {"field": "x", "type": "quantitative", "axis": null}, "y": {"field": "y", "type": "quantitative", "axis": null}, "detail": {"field": "g"}, "order": {"field": "i"}}},
      {"data": {"name": "bN"}, "transform": [{"filter": "datum.k == 'h'"}], "mark": {"type": "text", "font": "DejaVu Sans", "fontWeight": "bold", "fontSize": 20, "color": "#ff0000", "align": "left", "baseline": "middle"},
       "encoding": {"x": {"field": "x", "type": "quantitative", "axis": null}, "y": {"field": "y", "type": "quantitative", "axis": null}, "text": {"field": "t"}}},
      {"data": {"name": "bN"}, "transform": [{"filter": "datum.k == 's'"}], "mark": {"type": "text", "font": "DejaVu Sans", "fontWeight": "bold", "fontStyle": "italic", "fontSize": 17, "color": "#000", "align": "left", "baseline": "middle"},
       "encoding": {"x": {"field": "x", "type": "quantitative", "axis": null}, "y": {"field": "y", "type": "quantitative", "axis": null}, "text": {"field": "t"}}},
      {"data": {"name": "bN"}, "transform": [{"filter": "datum.k == 'o'"}], "mark": {"type": "text", "font": "DejaVu Sans", "fontWeight": "bold", "fontSize": 14.5, "color": "#111", "align": "center", "baseline": "middle"},
       "encoding": {"x": {"field": "x", "type": "quantitative", "axis": null}, "y": {"field": "y", "type": "quantitative", "axis": null}, "text": {"field": "t"}}}
    ]
  },
  {
    "width": 340, "height": 491,
    "title": {"text": "c"},
    "resolve": {"axis": {"x": "independent", "y": "independent"}},
    "layer": [
      {"data": {"name": "cP"}, "mark": {"type": "line", "strokeWidth": 1.2},
       "encoding": {
         "x": {"field": "x", "type": "quantitative", "scale": {"domain": [0, 200], "nice": false, "zero": false}, "axis": {"values": [0, 50, 100, 150, 200], "format": "d", "title": "First Order Photon Energy (eV)"}},
         "y": {"field": "y", "type": "quantitative", "scale": {"domain": [0, 0.18], "nice": false}, "axis": {"values": [0, 0.05, 0.1, 0.15], "format": ".2f", "title": "Efficiency"}},
         "color": {"field": "c", "type": "nominal", "scale": {"domain": ["r","b","g","y","m","c"], "range": ["#ff0000","#0000ff","#008000","#bfbf00","#bf00bf","#00bfbf"]}, "legend": null},
         "detail": {"field": "g"}}},
      {"data": {"name": "cP"}, "mark": {"type": "point", "filled": true, "size": 100, "stroke": "#000", "strokeWidth": 0.9, "opacity": 1},
       "encoding": {
         "x": {"field": "x", "type": "quantitative", "axis": null},
         "y": {"field": "y", "type": "quantitative", "axis": null},
         "fill": {"field": "c", "type": "nominal", "scale": {"domain": ["r","b","g","y","m","c"], "range": ["#ff0000","#0000ff","#008000","#bfbf00","#bf00bf","#00bfbf"]}, "legend": null}}},
      {"data": {"name": "cF"}, "mark": {"type": "line", "color": "#000", "strokeWidth": 2.5},
       "encoding": {"x": {"field": "x", "type": "quantitative", "axis": null}, "y": {"field": "y", "type": "quantitative", "axis": null}}},
      {"data": {"name": "cS"}, "mark": {"type": "line", "color": "#ff0000", "strokeWidth": 2.5},
       "encoding": {"x": {"field": "x", "type": "quantitative", "axis": {"orient": "top", "values": [0, 50, 100, 150, 200], "labels": false, "title": null}},
                    "y": {"field": "y", "type": "quantitative", "axis": {"orient": "right", "values": [0, 0.05, 0.1, 0.15], "labels": false, "title": null}}}},
      {"data": {"name": "cA"}, "mark": {"type": "line", "color": "#111", "strokeWidth": 1.4, "interpolate": "natural"},
       "encoding": {"x": {"field": "x", "type": "quantitative", "axis": null}, "y": {"field": "y", "type": "quantitative", "axis": null}, "detail": {"field": "g"}, "order": {"field": "i"}}},
      {"data": {"name": "cH"}, "mark": {"type": "line", "color": "#111", "strokeWidth": 1.6},
       "encoding": {"x": {"field": "x", "type": "quantitative", "axis": null}, "y": {"field": "y", "type": "quantitative", "axis": null}, "detail": {"field": "g"}, "order": {"field": "i"}}},
      {"data": {"name": "cN"}, "transform": [{"filter": "datum.k == 'h'"}], "mark": {"type": "text", "font": "DejaVu Sans", "fontWeight": "bold", "fontSize": 20, "color": "#ff0000", "align": "left", "baseline": "middle"},
       "encoding": {"x": {"field": "x", "type": "quantitative", "axis": null}, "y": {"field": "y", "type": "quantitative", "axis": null}, "text": {"field": "t"}}},
      {"data": {"name": "cN"}, "transform": [{"filter": "datum.k == 's'"}], "mark": {"type": "text", "font": "DejaVu Sans", "fontWeight": "bold", "fontStyle": "italic", "fontSize": 17, "color": "#000", "align": "left", "baseline": "middle"},
       "encoding": {"x": {"field": "x", "type": "quantitative", "axis": null}, "y": {"field": "y", "type": "quantitative", "axis": null}, "text": {"field": "t"}}},
      {"data": {"name": "cN"}, "transform": [{"filter": "datum.k == 'o'"}], "mark": {"type": "text", "font": "DejaVu Sans", "fontWeight": "bold", "fontSize": 14.5, "color": "#111", "align": "center", "baseline": "middle"},
       "encoding": {"x": {"field": "x", "type": "quantitative", "axis": null}, "y": {"field": "y", "type": "quantitative", "axis": null}, "text": {"field": "t"}}}
    ]
  }
]
}
